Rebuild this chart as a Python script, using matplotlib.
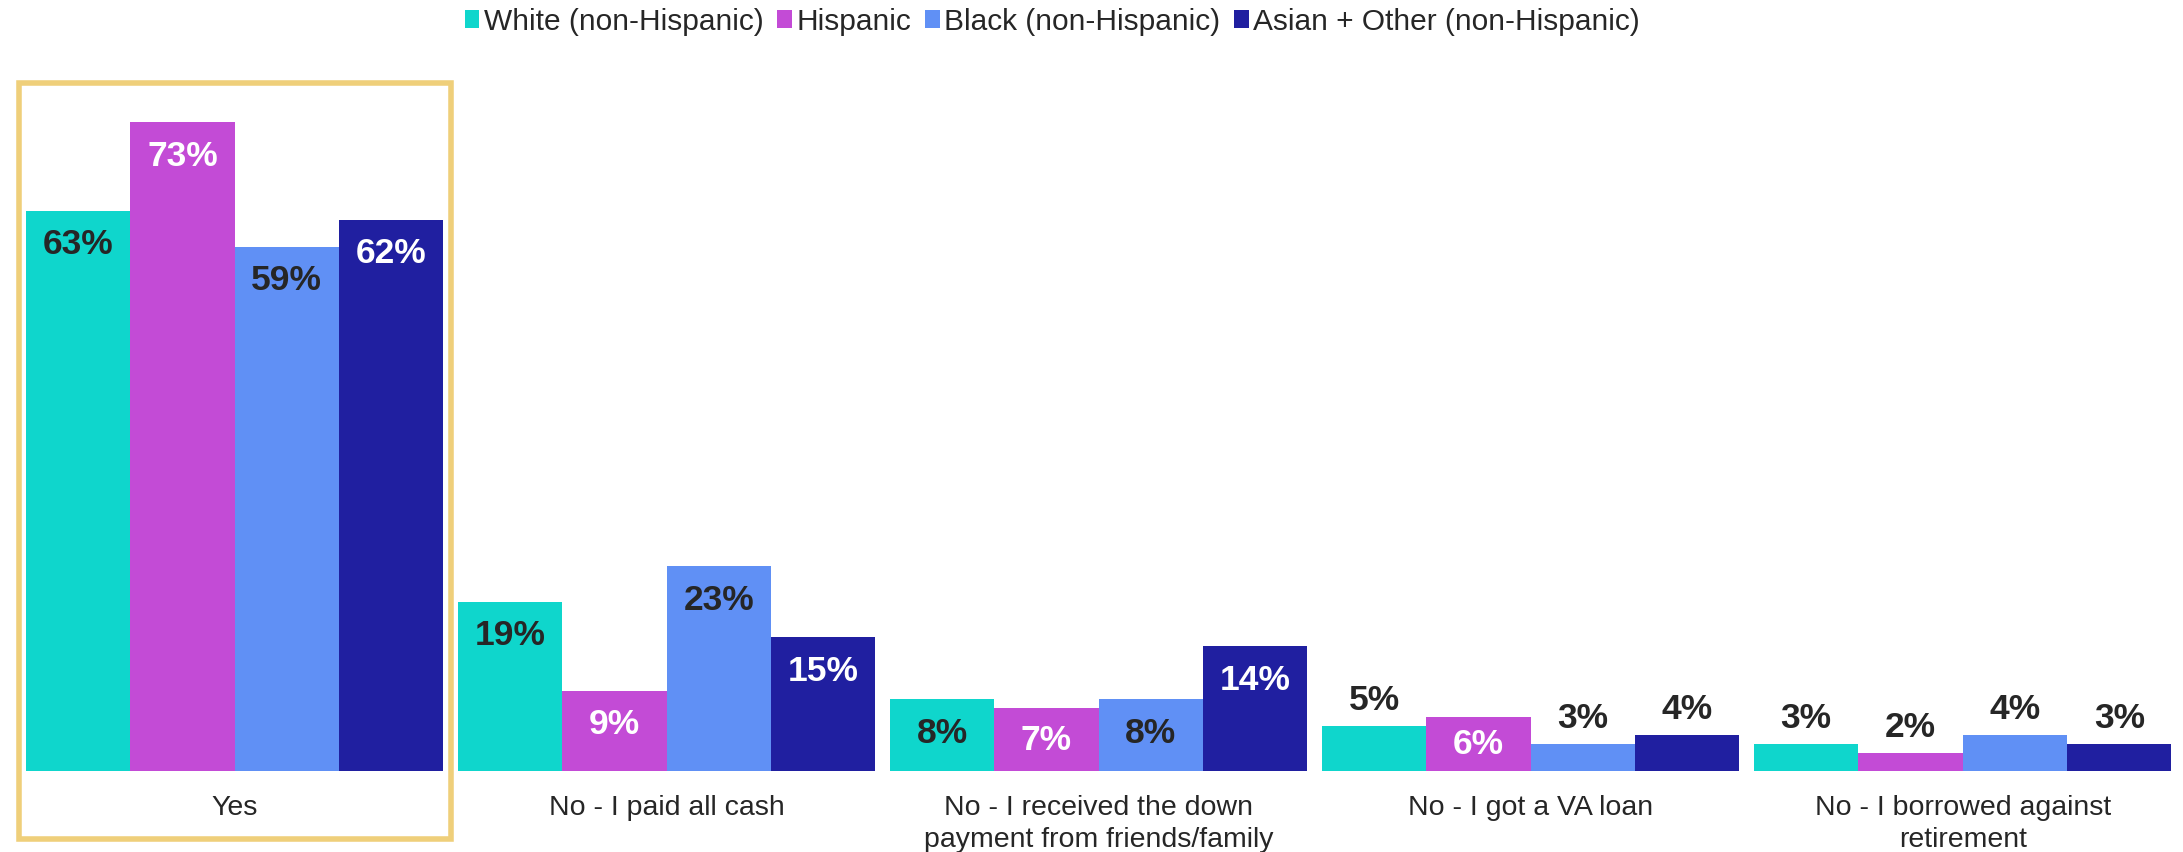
import numpy as np
import matplotlib
matplotlib.use('Agg')
import matplotlib.pyplot as plt
from matplotlib.patches import Patch, Rectangle

plt.rcParams['font.family'] = ['Liberation Sans', 'DejaVu Sans']

# Survey answers and shares (%) by race/ethnicity
categories = ['Yes', 'No - I paid all cash',
              'No - I received the down\npayment from friends/family',
              'No - I got a VA loan',
              'No - I borrowed against\nretirement']
groups = ['White (non-Hispanic)', 'Hispanic', 'Black (non-Hispanic)',
          'Asian + Other (non-Hispanic)']
white = [63, 19, 8, 5, 3]
hispanic = [73, 9, 7, 6, 2]
black = [59, 23, 8, 3, 4]
asian_other = [62, 15, 14, 4, 3]

series = [white, hispanic, black, asian_other]
colors = ['#0FD6CC', '#C34BD6', '#6090F5', '#201FA0']
label_colors = ['#262626', 'white', '#262626', 'white']
dark = '#262626'

fig = plt.figure(figsize=(21.83, 8.53), dpi=100)
ax = fig.add_axes([0.0085, 0.0955, 0.9895, 0.833])

x = np.arange(len(categories))
width = 0.2417
offsets = (np.arange(4) - 1.5) * width

for vals, off, col, lcol in zip(series, offsets, colors, label_colors):
    bars = ax.bar(x + off, vals, width=width, color=col, linewidth=0)
    for b, v in zip(bars, vals):
        cx = b.get_x() + b.get_width() / 2
        if v >= 6:
            y = max(v - 3.7, v / 2)
            ax.text(cx, y, f'{v}%', ha='center', va='center',
                    fontsize=25.5, fontweight='bold', color=lcol)
        else:
            ax.text(cx, v + 3.0, f'{v}%', ha='center', va='center',
                    fontsize=25.5, fontweight='bold', color=dark)

ax.set_xlim(-0.5, len(categories) - 0.5)
ax.set_ylim(0, 80)
ax.set_xticks(x)
ax.set_xticklabels(categories, fontsize=20.5, color=dark, linespacing=1.3)
ax.tick_params(axis='x', length=0, pad=17)
ax.set_yticks([])
for s in ax.spines.values():
    s.set_visible(False)

# highlight box around the first group
ax.add_patch(Rectangle((-0.5, -7.7), 1.0, 85.1, fill=False,
                       edgecolor='#EFCF7A', linewidth=4, clip_on=False))

handles = [Patch(facecolor=c, edgecolor='none') for c in colors]
fig.legend(handles, groups, loc='center', bbox_to_anchor=(0.482, 0.974),
           ncol=4, frameon=False, fontsize=21.5, handlelength=0.5,
           handleheight=0.55, handletextpad=0.15, columnspacing=0.45,
           labelcolor=dark)

fig.savefig('out.png', dpi=100)
